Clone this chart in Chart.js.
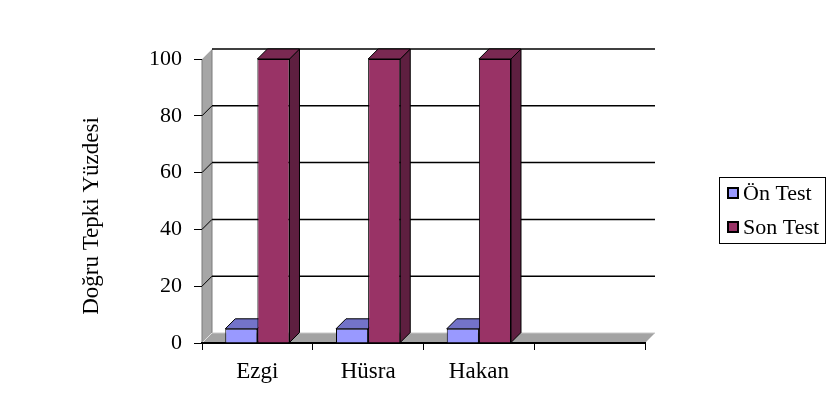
<!DOCTYPE html>
<html>
<head>
<meta charset="utf-8">
<title>Doğru Tepki Yüzdesi</title>
<script src="https://cdn.jsdelivr.net/npm/chart.js@4.4.1/dist/chart.umd.min.js"></script>
<style>
  html, body { margin: 0; padding: 0; background: #fff; }
  canvas { display: block; }
</style>
</head>
<body>
<canvas id="chart" width="837" height="403"></canvas>
<script>
// data
const categories = ["Ezgi", "Hüsra", "Hakan", ""];
const onTest     = [5, 5, 5, null];
const sonTest    = [100, 100, 100, null];
const seriesNames = ["Ön Test", "Son Test"];
const yMin = 0, yMax = 100, yStep = 20;
const yTitle = "Doğru Tepki Yüzdesi";

const SERIF = "'Liberation Serif', 'Times New Roman', serif";
const DX = 10, DY = 10;   // depth of the fake 3d

const COLORS = {
  on:  { front: "#9999ff", top: "#7373c9", side: "#5c5ca8" },
  son: { front: "#993366", top: "#7a2952", side: "#5e1f40" },
};

function poly(ctx, pts, fill, stroke, lw) {
  ctx.beginPath();
  ctx.moveTo(pts[0][0], pts[0][1]);
  for (let i = 1; i < pts.length; i++) ctx.lineTo(pts[i][0], pts[i][1]);
  ctx.closePath();
  if (fill) { ctx.fillStyle = fill; ctx.fill(); }
  if (stroke) { ctx.strokeStyle = stroke; ctx.lineWidth = lw || 1; ctx.stroke(); }
}

function line(ctx, x1, y1, x2, y2, color, lw) {
  ctx.beginPath();
  ctx.moveTo(x1, y1);
  ctx.lineTo(x2, y2);
  ctx.strokeStyle = color;
  ctx.lineWidth = lw;
  ctx.stroke();
}

const depth3d = {
  id: "depth3d",
  // walls, floor and back gridlines
  beforeDraw(chart) {
    const { ctx, chartArea: a, scales: { y } } = chart;
    ctx.save();
    poly(ctx, [[a.left, a.top], [a.left + DX, a.top - DY], [a.left + DX, a.bottom - DY], [a.left, a.bottom]], "#a6a6a6", "#7a7a7a", 1);
    poly(ctx, [[a.left, a.bottom], [a.left + DX, a.bottom - DY], [a.right + DX, a.bottom - DY], [a.right, a.bottom]], "#a3a3a3", null);
    line(ctx, a.left + DX, a.bottom - DY, a.right + DX, a.bottom - DY, "#c8c8c8", 1);
    y.ticks.forEach(t => {
      if (t.value === yMin) return;
      const py = y.getPixelForValue(t.value);
      line(ctx, a.left + DX, py - DY, a.right + DX, py - DY, "#000", 1.5);
      line(ctx, a.left, py, a.left + DX, py - DY, t.value === yMax ? "#e0e0e0" : "#000", 1);
    });
    line(ctx, a.left, a.bottom, a.left + DX, a.bottom - DY, "#e0e0e0", 1);
    ctx.restore();
  },
  // tops and right sides of the bars, fronts get drawn over them
  beforeDatasetsDraw(chart) {
    const { ctx } = chart;
    ctx.save();
    chart.data.datasets.forEach((ds, i) => {
      const c = i === 0 ? COLORS.on : COLORS.son;
      chart.getDatasetMeta(i).data.forEach((bar, j) => {
        if (ds.data[j] == null) return;
        const l = bar.x - bar.width / 2, r = bar.x + bar.width / 2;
        const top = bar.y, base = bar.base;
        poly(ctx, [[r, top], [r + DX, top - DY], [r + DX, base - DY], [r, base]], c.side, "#000", 1);
        poly(ctx, [[l, top], [l + DX, top - DY], [r + DX, top - DY], [r, top]], c.top, "#000", 1);
      });
    });
    ctx.restore();
  },
  // axis title and legend
  afterDraw(chart) {
    const { ctx } = chart;
    ctx.save();
    ctx.fillStyle = "#000";
    ctx.font = `23px ${SERIF}`;
    ctx.textAlign = "center";
    ctx.textBaseline = "middle";
    ctx.translate(92, 216);
    ctx.rotate(-Math.PI / 2);
    ctx.fillText(yTitle, 0, 0);
    ctx.restore();

    ctx.save();
    ctx.strokeStyle = "#000";
    ctx.lineWidth = 1;
    ctx.strokeRect(719.5, 177.5, 106, 66);
    ctx.font = `22px ${SERIF}`;
    ctx.textAlign = "left";
    ctx.textBaseline = "middle";
    chart.data.datasets.forEach((ds, i) => {
      const cy = 193 + i * 34;
      ctx.fillStyle = "#000";
      ctx.fillRect(727, cy - 6, 12, 12);
      ctx.fillStyle = ds.backgroundColor;
      ctx.fillRect(729, cy - 4, 8, 8);
      ctx.fillStyle = "#000";
      ctx.fillText(ds.label, 743, cy + 1);
    });
    ctx.restore();
  }
};

new Chart(document.getElementById("chart").getContext("2d"), {
  type: "bar",
  data: {
    labels: categories,
    datasets: [
      { label: seriesNames[0], data: onTest,  backgroundColor: COLORS.on.front,  borderColor: "#000", borderWidth: 1 },
      { label: seriesNames[1], data: sonTest, backgroundColor: COLORS.son.front, borderColor: "#000", borderWidth: 1 },
    ],
  },
  plugins: [depth3d],
  options: {
    responsive: false,
    animation: false,
    categoryPercentage: 0.58,
    barPercentage: 1,
    layout: { padding: { left: 0, right: 192, top: 59, bottom: 0 } },
    plugins: { legend: { display: false }, tooltip: { enabled: false } },
    scales: {
      x: {
        grid: { offset: true, drawOnChartArea: false, drawTicks: true, tickLength: 7, color: "#000" },
        border: { display: true, color: "#000", width: 2 },
        ticks: { color: "#000", font: { family: SERIF, size: 23 }, padding: 8, maxRotation: 0 },
        afterFit: s => { s.height = 60; },
      },
      y: {
        min: yMin, max: yMax,
        grid: { drawOnChartArea: false, drawTicks: true, tickLength: 8, color: "#000" },
        border: { display: false },
        ticks: { stepSize: yStep, color: "#000", font: { family: SERIF, size: 22 }, padding: 12 },
        afterFit: s => { s.width = 202; },
      },
    },
  },
});
</script>
</body>
</html>
